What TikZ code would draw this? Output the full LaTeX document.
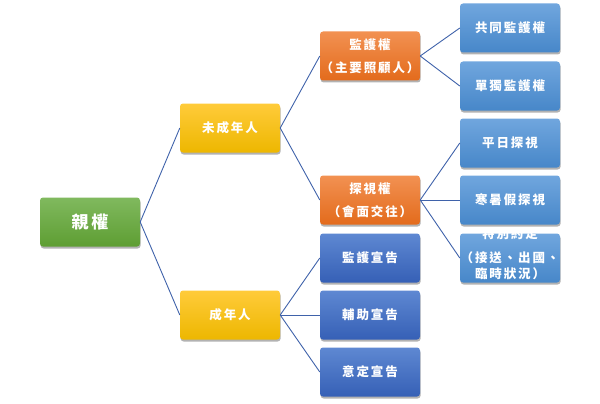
\documentclass[tikz,border=0pt]{standalone}
\usepackage{fontspec}
\newfontfamily\cjk[LetterSpace=15]{Noto Sans CJK TC}
\usetikzlibrary{shadows}

\definecolor{grnTop}{HTML}{80B95E}
\definecolor{grnBot}{HTML}{5E9E33}
\definecolor{ylwTop}{HTML}{FFCB3A}
\definecolor{ylwBot}{HTML}{EDB700}
\definecolor{orgTop}{HTML}{F29152}
\definecolor{orgBot}{HTML}{E36B1C}
\definecolor{midTop}{HTML}{5E88D2}
\definecolor{midBot}{HTML}{3660B6}
\definecolor{leafTop}{HTML}{70A6DE}
\definecolor{leafBot}{HTML}{4787C9}
\definecolor{linkblue}{HTML}{3F62AA}

\tikzset{
  box/.style={rounded corners=3pt, minimum width=100pt, minimum height=49pt,
    inner sep=0pt, text=white, align=center,
    font=\cjk\bfseries\fontsize{12.5}{16}\selectfont,
    drop shadow={shadow xshift=0.6pt, shadow yshift=-2pt, opacity=0.3, fill=black}},
  rootbox/.style={box, top color=grnTop, bottom color=grnBot,
    font=\cjk\bfseries\fontsize{17}{20}\selectfont},
  agebox/.style={box, top color=ylwTop, bottom color=ylwBot},
  rightbox/.style={box, top color=orgTop, bottom color=orgBot},
  declbox/.style={box, top color=midTop, bottom color=midBot},
  leafbox/.style={box, top color=leafTop, bottom color=leafBot},
  link/.style={draw=linkblue, line width=0.9pt},
}

\begin{document}
\begin{tikzpicture}[x=1pt,y=-1pt]
  \useasboundingbox (0,0) rectangle (600,404);
  % level 0
  \node[rootbox] (parental) at (90,222) {親權};
  % level 1
  \node[agebox] (minor) at (230,128) {未成年人};
  \node[agebox] (adult) at (230,315) {成年人};
  % level 2
  \node[rightbox] (custody) at (370,56) {監護權\\[7pt]（主要照顧人）};
  \node[rightbox] (visit) at (370,200) {探視權\\[7pt]（會面交往）};
  \node[declbox] (guardian) at (370,258) {監護宣告};
  \node[declbox] (assist) at (370,315) {輔助宣告};
  \node[declbox] (agreed) at (370,372) {意定宣告};
  % level 3
  \node[leafbox] (joint) at (510,28) {共同監護權};
  \node[leafbox] (sole) at (510,86) {單獨監護權};
  \node[leafbox] (weekday) at (510,143) {平日探視};
  \node[leafbox] (holiday) at (510,200) {寒暑假探視};
  \node[leafbox] (special) at (510,258)
    {\smash{\begin{tabular}{@{}c@{}}特別約定\\[8pt]（接送、出國、\\臨時狀況）\end{tabular}}};

  \draw[link] (parental.east) -- (minor.west);
  \draw[link] (parental.east) -- (adult.west);
  \draw[link] (minor.east) -- (custody.west);
  \draw[link] (minor.east) -- (visit.west);
  \draw[link] (adult.east) -- (guardian.west);
  \draw[link] (adult.east) -- (assist.west);
  \draw[link] (adult.east) -- (agreed.west);
  \draw[link] (custody.east) -- (joint.west);
  \draw[link] (custody.east) -- (sole.west);
  \draw[link] (visit.east) -- (weekday.west);
  \draw[link] (visit.east) -- (holiday.west);
  \draw[link] (visit.east) -- (special.west);
\end{tikzpicture}
\end{document}
